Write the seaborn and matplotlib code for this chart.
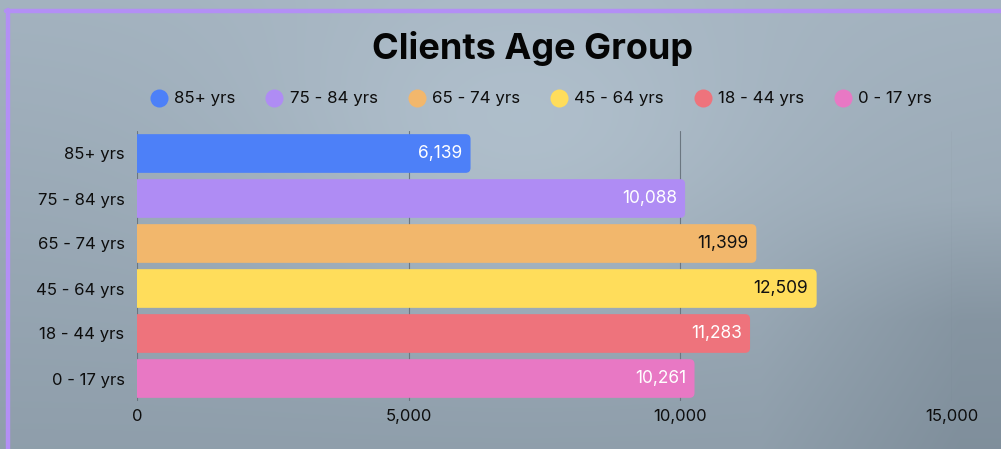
import matplotlib
matplotlib.use("Agg")
import matplotlib.pyplot as plt
import numpy as np
import pandas as pd
import seaborn as sns
from matplotlib.lines import Line2D
from matplotlib.patches import FancyBboxPatch

groups = ["85+ yrs", "75 - 84 yrs", "65 - 74 yrs", "45 - 64 yrs", "18 - 44 yrs", "0 - 17 yrs"]
clients = [6139, 10088, 11399, 12509, 11283, 10261]
colors = ["#4d80f8", "#af8cf4", "#f2b76c", "#ffdd5b", "#ee737c", "#e878c4"]
label_colors = ["white", "white", "#111111", "#111111", "white", "white"]
x_ticks = [0, 5000, 10000, 15000]

df = pd.DataFrame({"group": groups, "clients": clients})

sns.set_theme(style="white")
plt.rcParams["font.family"] = ["Inter", "DejaVu Sans"]
plt.rcParams["text.color"] = "#0d0d0d"

fig = plt.figure(figsize=(10.01, 4.49), dpi=100)

# misty background
bg = fig.add_axes([0, 0, 1, 1], zorder=-10)
yy, xx = np.mgrid[0:449, 0:1001]
top = np.array([0.64, 0.70, 0.75])
bottom = np.array([0.56, 0.62, 0.67])
t = (yy / 448.0)[..., None]
img = top * (1 - t) + bottom * t
glow = np.exp(-(((xx - 520) / 260.0) ** 2 + ((yy - 150) / 160.0) ** 2))[..., None]
img = img + 0.07 * glow
dark = (np.clip((xx - 760) / 200.0, 0, 1) * np.clip((yy - 200) / 120.0, 0, 1))[..., None]
img = img - 0.06 * dark
bg.imshow(np.clip(img, 0, 1), aspect="auto", extent=[0, 1, 0, 1])
bg.axis("off")

# purple frame
fig.add_artist(Line2D([0.006, 1.0], [1 - 11 / 449, 1 - 11 / 449], color="#b38ff5", lw=3.2))
fig.add_artist(Line2D([0.0075, 0.0075], [0, 1 - 10 / 449], color="#b38ff5", lw=3.2))

ax = fig.add_axes([137 / 1001, 1 - 401 / 449, 815 / 1001, 270 / 449])
ax.patch.set_alpha(0)
sns.barplot(data=df, x="clients", y="group", hue="group", palette=colors,
            legend=False, width=0.86, ax=ax)

ax.set_xlim(0, 15000)
ax.set_ylim(5.5, -0.5)
ax.set_xticks(x_ticks)
ax.set_xticklabels([f"{v:,}" for v in x_ticks])
ax.set_xlabel("")
ax.set_ylabel("")
for s in ax.spines.values():
    s.set_visible(False)
for v in x_ticks:
    ax.axvline(v, color="#6b7680", lw=0.8, zorder=0)
ax.tick_params(axis="x", length=0, pad=6, labelsize=12, labelcolor="#0d0d0d")
ax.tick_params(axis="y", length=0, pad=9, labelsize=12, labelcolor="#0d0d0d")

# rounded right ends
xpp = 15000 / 815.0
ypp = 6 / 270.0
r = 5 * xpp
for patch, col in zip(list(ax.patches), colors):
    x0, y0 = patch.get_x(), patch.get_y()
    w, h = patch.get_width(), patch.get_height()
    patch.remove()
    box = FancyBboxPatch((x0 - 2 * r, y0), w + 2 * r, h,
                         boxstyle=f"round,pad=0,rounding_size={r}",
                         mutation_aspect=ypp / xpp, facecolor=col,
                         edgecolor="none", zorder=2, clip_on=True)
    ax.add_patch(box)

for i, (v, lc) in enumerate(zip(clients, label_colors)):
    ax.annotate(f"{v:,}", xy=(v, i), xytext=(-6, 0), textcoords="offset points",
                ha="right", va="center", fontsize=12.5, color=lc, zorder=3)

fig.text(0.532, 1 - 48 / 449, "Clients Age Group", ha="center", va="center",
         fontsize=26, fontweight="bold", color="#050505")

handles = [Line2D([], [], marker="o", linestyle="none", markersize=13,
                  markerfacecolor=c, markeredgecolor="none") for c in colors]
leg = fig.legend(handles, groups, loc="center", bbox_to_anchor=(0.540, 1 - 99 / 449),
                 ncol=6, frameon=False, fontsize=12.2, handletextpad=0.3,
                 columnspacing=1.7, handlelength=1.2)
for txt in leg.get_texts():
    txt.set_color("#0d0d0d")

fig.savefig("out.png", dpi=100)
